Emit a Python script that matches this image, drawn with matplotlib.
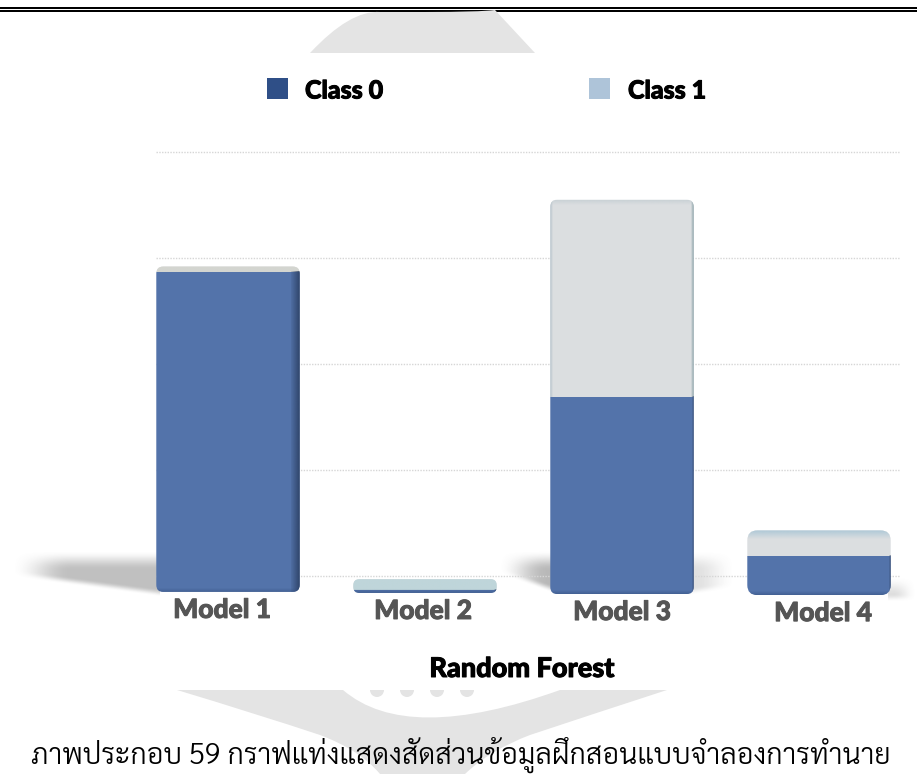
#!/usr/bin/env python3
# -*- coding: utf-8 -*-
import numpy as np
import matplotlib
matplotlib.use('Agg')
import matplotlib.pyplot as plt
import matplotlib.patheffects as pe
from matplotlib.patches import FancyBboxPatch, PathPatch, Rectangle, Circle
from matplotlib.path import Path

models = ['Model 1', 'Model 2', 'Model 3', 'Model 4']
class_0 = [302, 3, 186, 37]
class_1 = [5, 10, 186, 24]
grid_values = [0, 100, 200, 300, 400]

# the bars stand a little below the lowest grid line, and lower to the right
floor = [-15, -16, -17, -18]
label_y = [-32, -33, -34, -35]
label_dx = [-6, -2, 0, 4]

caption = 'ภาพประกอบ 59 กราฟแท่งแสดงสัดส่วนข้อมูลฝึกสอนแบบจำลองการทำนาย'

BLUE = '#5373aa'
PALE = '#dbdee0'
BOLD = 'Lato'
heavy = [pe.withStroke(linewidth=0.7, foreground='black')]

fig = plt.figure(figsize=(9.17, 7.74), dpi=100)

# ---- page layer, in pixels
bg = fig.add_axes([0, 0, 1, 1])
bg.set_xlim(0, 917)
bg.set_ylim(774, 0)
bg.axis('off')
bg.set_autoscale_on(False)

# double rule at the head of the page
bg.add_patch(Rectangle((0, 7), 917, 2.4, color='black', lw=0))
bg.add_patch(Rectangle((0, 10), 917, 1.8, color='black', lw=0))

# grey seal behind the page
WM = '#e4e4e4'
top_seal = Path([(310, 53), (350, 10), (380, 12), (425, 12), (480, 12), (495, 10), (535, 53), (310, 53)],
                [Path.MOVETO, Path.CURVE3, Path.CURVE3, Path.LINETO, Path.CURVE3, Path.CURVE3, Path.LINETO, Path.CLOSEPOLY])
bg.add_patch(PathPatch(top_seal, fc=WM, ec='none'))
low_seal = Path([(177, 690), (667, 690), (590, 715), (530, 735), (490, 750), (465, 774), (380, 774), (360, 750), (320, 735), (260, 715), (177, 690), (177, 690)],
                [Path.MOVETO, Path.LINETO, Path.CURVE3, Path.CURVE3, Path.CURVE3, Path.CURVE3, Path.LINETO,
                 Path.CURVE3, Path.CURVE3, Path.CURVE3, Path.CURVE3, Path.CLOSEPOLY])
bg.add_patch(PathPatch(low_seal, fc=WM, ec='none'))
crescent = Path([(343, 690), (407, 745), (560, 690), (343, 690)],
                [Path.MOVETO, Path.CURVE3, Path.CURVE3, Path.CLOSEPOLY])
bg.add_patch(PathPatch(crescent, fc='white', ec='none'))
for cx in [377, 407, 437, 467]:
    bg.add_patch(Circle((cx, 690), 7, fc=WM, ec='none'))
# sheet the chart sits on
bg.add_patch(Rectangle((0, 53), 917, 637, color='white', lw=0))


def smooth(t):
    t = np.clip(t, 0, 1)
    return t * t * (3 - 2 * t)


def floor_shadow(x0, x1, top, bot0, bot1, fade_l, fade_r, level):
    xs = np.arange(x0, x1 + 1.0)
    ys = np.arange(top - 10, max(bot0, bot1) + 6.0)
    xx, yy = np.meshgrid(xs, ys)
    bot = bot0 + (bot1 - bot0) * (xx - x0) / max(x1 - x0, 1)
    a = smooth((yy - top + 10) / 20) * smooth((bot - yy + 4) / 8)
    if fade_l:
        a = a * smooth((xx - x0) / fade_l)
    if fade_r:
        a = a * smooth((x1 - xx) / fade_r)
    img = np.zeros(a.shape + (4,))
    img[..., :3] = 0.45
    img[..., 3] = a * level
    bg.imshow(img, extent=(x0, x1, ys[-1], ys[0]), aspect='auto', interpolation='bilinear', zorder=2)


floor_shadow(11, 160, 560, 573, 593, 60, 0, 0.45)
floor_shadow(498, 555, 560, 570, 590, 50, 0, 0.50)
floor_shadow(688, 736, 560, 592, 585, 0, 42, 0.22)
floor_shadow(888, 917, 586, 598, 598, 0, 24, 0.24)
bg.set_xlim(0, 917)
bg.set_ylim(774, 0)

# ---- chart layer, 100 units = 106 px and 1 category = 197 px
ax = fig.add_axes([0, 0, 1, 1])
ax.patch.set_alpha(0)
ax.axis('off')
PX_X = 197.0
PX_Y = 1.06
ax.set_xlim(-228 / PX_X, (917 - 228) / PX_X)
ax.set_ylim((576 - 774) / PX_Y, 576 / PX_Y)
ax.set_autoscale_on(False)
x = np.arange(len(models))
width = 0.728

ax.hlines(grid_values, -0.365, 3.41, color='#d6d6d6', lw=1.0, linestyles=(0, (1, 1)), zorder=1)

bars0 = ax.bar(x, class_0, width, bottom=floor, color=BLUE, zorder=3)
tops0 = [f + v for f, v in zip(floor, class_0)]
bars1 = ax.bar(x, class_1, width, bottom=tops0, color=PALE, zorder=3)


def band(y0, y1, x0, x1, color, a0, a1, horizontal, clip):
    # linear tint between two alphas, over part of one bar
    n = 64
    ramp = np.linspace(a0, a1, n)
    img = np.zeros((1, n, 4) if horizontal else (n, 1, 4))
    img[..., :3] = matplotlib.colors.to_rgb(color)
    img[..., 3] = ramp.reshape(img.shape[:2])
    im = ax.imshow(img, extent=(x0, x1, y0, y1), origin='lower', aspect='auto', zorder=4, interpolation='bilinear')
    im.set_clip_path(clip)


for i in range(len(models)):
    left = x[i] - width / 2
    right = x[i] + width / 2
    total = class_0[i] + class_1[i]
    radius = [7, 6, 7, 10][i] / PX_X
    box = FancyBboxPatch((left, floor[i]), width, total,
                         boxstyle='round,pad=0,rounding_size=%f' % radius,
                         mutation_aspect=PX_X / PX_Y, fc='none', ec='none',
                         transform=ax.transData)
    ax.add_patch(box)
    bars0[i].set_clip_path(box)
    bars1[i].set_clip_path(box)
    top = floor[i] + total

    # lit top edge of the pale block
    if i == 3:
        band(top - 8, top, left, right, '#a9c6d6', 0.0, 0.9, False, box)
    elif i == 2:
        band(top - 5, top, left, right, '#b9c6cc', 0.0, 0.6, False, box)
        band(tops0[i], top, right - 3 / PX_X, right, '#7f99a0', 0.0, 0.95, True, box)
        band(tops0[i], top, left, left + 3 / PX_X, '#9fb2bf', 0.7, 0.0, True, box)
    elif i == 1:
        band(tops0[i], top, left, right, '#bcd5da', 0.9, 0.9, False, box)
    else:
        band(tops0[i], top, left, right, '#cfcfc6', 0.6, 0.6, False, box)

    # darker side face on the blue block
    side = [9, 3, 2, 2][i] / PX_X
    band(floor[i], tops0[i], right - side, right, '#2b3f62', [0.1, 0.0, 0.0, 0.0][i], 0.9, True, box)
    band(floor[i], floor[i] + 3, left, right, '#34507f', 0.55, 0.0, False, box)

    ax.text(x[i] + label_dx[i] / PX_X, label_y[i], models[i], ha='center', va='center',
            fontfamily=BOLD, fontweight=900, fontsize=19, color='#555555', zorder=5,
            path_effects=[pe.withStroke(linewidth=0.7, foreground='#555555')])

# ---- legend and titles
bg.add_patch(Rectangle((267, 78), 21, 21, fc='#2f4f87', ec='none', zorder=6))
bg.add_patch(Rectangle((589, 78), 21, 21, fc='#aec4d9', ec='none', zorder=6))
bg.text(305, 91, 'Class 0', ha='left', va='center', fontfamily=BOLD, fontweight=900, fontsize=18, zorder=6, path_effects=heavy)
bg.text(628, 91, 'Class 1', ha='left', va='center', fontfamily=BOLD, fontweight=900, fontsize=18, zorder=6, path_effects=heavy)
bg.text(522, 669, 'Random Forest', ha='center', va='center', fontfamily=BOLD, fontweight=900, fontsize=19.5, zorder=6, path_effects=heavy)

bg.text(461, 764, caption, ha='center', va='baseline',
        fontfamily=['Sarabun', 'Noto Sans Thai', 'DejaVu Sans'], fontweight=300, fontsize=20.7, color='black', zorder=6)

fig.savefig('out.png', dpi=100)
